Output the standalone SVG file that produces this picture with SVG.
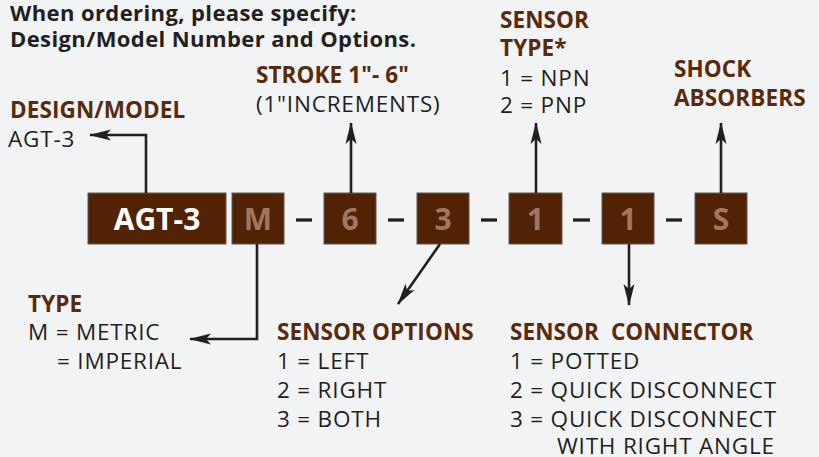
<svg xmlns="http://www.w3.org/2000/svg" width="819" height="457" viewBox="0 0 819 457">
<style>
.t{font-family:"Open Sans","Noto Sans","Liberation Sans",sans-serif;font-size:22.5px;letter-spacing:0.8px;fill:#231f20}
.h{font-family:"Open Sans","Noto Sans","Liberation Sans",sans-serif;font-size:22.5px;letter-spacing:0.1px;font-weight:bold;fill:#5a2a0c}
.top{font-family:"Open Sans","Noto Sans","Liberation Sans",sans-serif;font-size:22px;letter-spacing:0.4px;font-weight:bold;fill:#231f20}
.box{fill:#522204;stroke:#5a5a5a;stroke-width:1}
.bt{font-family:"Open Sans","Noto Sans","Liberation Sans",sans-serif;font-size:30px;font-weight:bold;fill:#a07860;text-anchor:middle}
.dash{stroke:#231f20;stroke-width:3.3}
.ln{stroke:#231f20;stroke-width:2.6;fill:none;marker-end:url(#ah)}
</style>
<defs>
<marker id="ah" markerWidth="22" markerHeight="12" refX="21" refY="6" orient="auto" markerUnits="userSpaceOnUse">
<path d="M0,0.5 L22,6 L0,11.5 L5,6 z" fill="#231f20"/>
</marker>
</defs>
<rect width="819" height="457" fill="#f2f3f5"/>
<g id="header">
<text class="top" x="10" y="21">When ordering, please specify:</text>
<text class="top" x="10" y="47">Design/Model Number and Options.</text>
</g>
<g id="box-agt3"><rect class="box" x="88" y="193" width="138" height="51"/><text x="157" y="230" font-family="Open Sans,Noto Sans,Liberation Sans,sans-serif" font-size="30" font-weight="bold" fill="#ffffff" text-anchor="middle">AGT-3</text></g>
<g id="box-m"><rect class="box" x="232" y="193" width="52" height="51"/><text class="bt" x="258" y="230">M</text></g>
<g id="box-6"><rect class="box" x="324" y="193" width="52" height="51"/><text class="bt" x="350" y="230">6</text></g>
<g id="box-3"><rect class="box" x="417" y="193" width="52" height="51"/><text class="bt" x="443" y="230">3</text></g>
<g id="box-1a"><rect class="box" x="509" y="193" width="53" height="51"/><text class="bt" x="535.5" y="230">1</text></g>
<g id="box-1b"><rect class="box" x="602" y="193" width="52" height="51"/><text class="bt" x="628" y="230">1</text></g>
<g id="box-s"><rect class="box" x="695" y="193" width="52" height="51"/><text class="bt" x="721" y="230">S</text></g>
<g id="dashes">
<line class="dash" x1="296" y1="220" x2="312" y2="220"/>
<line class="dash" x1="388" y1="220" x2="404" y2="220"/>
<line class="dash" x1="481" y1="220" x2="497" y2="220"/>
<line class="dash" x1="573" y1="220" x2="590" y2="220"/>
<line class="dash" x1="666" y1="220" x2="682" y2="220"/>
</g>
<g id="connectors">
<path class="ln" d="M146,193 V135 H90"/>
<path class="ln" d="M351,193 V123"/>
<path class="ln" d="M536,193 V123"/>
<path class="ln" d="M721,193 V123"/>
<path class="ln" d="M257,244 V339 H190"/>
<path class="ln" d="M440,244 L398,304"/>
<path class="ln" d="M629,244 V305"/>
</g>
<g id="label-design">
<text class="h" x="10" y="118">DESIGN/MODEL</text>
<text class="t" x="8" y="147">AGT-3</text>
</g>
<g id="label-stroke">
<text class="h" x="256" y="83">STROKE 1"- 6"</text>
<text class="t" x="256" y="112">(1"INCREMENTS)</text>
</g>
<g id="label-sensortype">
<text class="h" x="500" y="28">SENSOR</text>
<text class="h" x="500" y="56">TYPE*</text>
<text class="t" x="500" y="86">1 = NPN</text>
<text class="t" x="500" y="113">2 = PNP</text>
</g>
<g id="label-shock">
<text class="h" x="674" y="77">SHOCK</text>
<text class="h" x="674" y="106">ABSORBERS</text>
</g>
<g id="label-type">
<text class="h" x="28" y="312">TYPE</text>
<text class="t" x="28" y="340">M = METRIC</text>
<text class="t" x="57" y="369">= IMPERIAL</text>
</g>
<g id="label-options">
<text class="h" x="277" y="340">SENSOR OPTIONS</text>
<text class="t" x="277" y="369">1 = LEFT</text>
<text class="t" x="277" y="398">2 = RIGHT</text>
<text class="t" x="277" y="427">3 = BOTH</text>
</g>
<g id="label-connector">
<text class="h" x="510" y="340" xml:space="preserve">SENSOR  CONNECTOR</text>
<text class="t" x="510" y="369">1 = POTTED</text>
<text class="t" x="510" y="398">2 = QUICK DISCONNECT</text>
<text class="t" x="510" y="427">3 = QUICK DISCONNECT</text>
<text class="t" x="557" y="454">WITH RIGHT ANGLE</text>
</g>
</svg>
